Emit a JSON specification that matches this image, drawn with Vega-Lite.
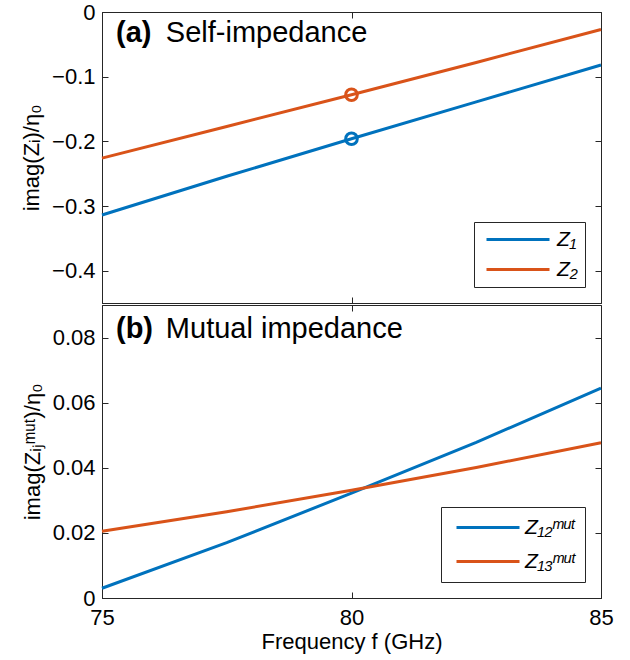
{
  "$schema": "https://vega.github.io/schema/vega-lite/v6.json",
  "background": "white",
  "padding": {"left": 20, "top": 0, "right": 25, "bottom": 5},
  "spacing": 0,
  "config": {
    "font": "Liberation Sans",
    "view": {"stroke": "#262626", "strokeWidth": 1},
    "axis": {
      "domainColor": "#262626", "tickColor": "#262626", "tickSize": -6,
      "labelFontSize": 22, "titleFontSize": 22, "labelColor": "black", "titleColor": "black",
      "titleFontWeight": "normal", "grid": false, "labelPadding": 13, "labelFlush": false
    },
    "legend": {
      "orient": "bottom-right", "title": null, "symbolType": "M-1,0H11.6", "symbolSize": 100,
      "symbolStrokeWidth": 3, "labelFontSize": 21, "labelFontStyle": "italic", "labelColor": "black",
      "strokeColor": "#262626", "fillColor": "white", "padding": 7, "offset": 16, "labelOffset": 55, "rowPadding": 8
    }
  },
  "resolve": {"scale": {"color": "independent"}, "legend": {"color": "independent"}},
  "vconcat": [
    {
      "width": 499, "height": 291,
      "layer": [
        {
          "data": {"values": [
            {"s": "Z₁", "f": 75, "v": -0.314}, {"s": "Z₁", "f": 77.5, "v": -0.254}, {"s": "Z₁", "f": 80, "v": -0.196}, {"s": "Z₁", "f": 82.5, "v": -0.139}, {"s": "Z₁", "f": 85, "v": -0.082},
            {"s": "Z₂", "f": 75, "v": -0.226}, {"s": "Z₂", "f": 77.5, "v": -0.177}, {"s": "Z₂", "f": 80, "v": -0.128}, {"s": "Z₂", "f": 82.5, "v": -0.078}, {"s": "Z₂", "f": 85, "v": -0.027}
          ]},
          "mark": {"type": "line", "strokeWidth": 3},
          "encoding": {
            "x": {"field": "f", "type": "quantitative", "scale": {"domain": [75, 85], "nice": false}, "axis": {"values": [75, 80, 85], "labels": false, "title": null}},
            "y": {"field": "v", "type": "quantitative", "scale": {"domain": [-0.45, 0], "nice": false}, "axis": {"values": [0, -0.1, -0.2, -0.3, -0.4], "format": ".1~f", "title": "imag(Zᵢ)/η₀", "titlePadding": 8}},
            "color": {"field": "s", "type": "nominal", "scale": {"domain": ["Z₁", "Z₂"], "range": ["#0072BD", "#D95319"]}}
          }
        },
        {
          "data": {"values": [{"s": "Z₁", "f": 80, "v": -0.196}, {"s": "Z₂", "f": 80, "v": -0.128}]},
          "mark": {"type": "point", "shape": "circle", "filled": false, "size": 135, "strokeWidth": 3, "opacity": 1},
          "encoding": {
            "x": {"field": "f", "type": "quantitative", "axis": null},
            "y": {"field": "v", "type": "quantitative", "axis": null},
            "color": {"field": "s", "type": "nominal"}
          }
        },
        {
          "data": {"values": [{"f": 75, "v": -0.2}, {"f": 85, "v": -0.2}]},
          "mark": {"type": "line", "opacity": 0},
          "encoding": {
            "x": {"field": "f", "type": "quantitative", "axis": {"orient": "top", "values": [75, 80, 85], "labels": false, "domain": false, "title": null}},
            "y": {"field": "v", "type": "quantitative", "axis": {"orient": "right", "values": [0, -0.1, -0.2, -0.3, -0.4], "labels": false, "domain": false, "title": null}}
          }
        },
        {
          "data": {"values": [{"label": "(a)"}]},
          "mark": {"type": "text", "fontSize": 29, "fontWeight": "bold", "align": "left", "baseline": "alphabetic", "color": "black"},
          "encoding": {"x": {"datum": 75.28, "type": "quantitative", "axis": null}, "y": {"datum": -0.047, "type": "quantitative", "axis": null}, "text": {"field": "label"}}
        },
        {
          "data": {"values": [{"label": "Self-impedance"}]},
          "mark": {"type": "text", "fontSize": 29, "align": "left", "baseline": "alphabetic", "color": "black"},
          "encoding": {"x": {"datum": 76.28, "type": "quantitative", "axis": null}, "y": {"datum": -0.047, "type": "quantitative", "axis": null}, "text": {"field": "label"}}
        }
      ],
      "resolve": {"axis": {"x": "independent", "y": "independent"}}
    },
    {
      "width": 499, "height": 293,
      "layer": [
        {
          "data": {"values": [
            {"s": "Z₁₂ᵐᵘᵗ", "f": 75, "v": 0.003}, {"s": "Z₁₂ᵐᵘᵗ", "f": 77.5, "v": 0.017}, {"s": "Z₁₂ᵐᵘᵗ", "f": 80, "v": 0.0322}, {"s": "Z₁₂ᵐᵘᵗ", "f": 82.5, "v": 0.0478}, {"s": "Z₁₂ᵐᵘᵗ", "f": 85, "v": 0.0645},
            {"s": "Z₁₃ᵐᵘᵗ", "f": 75, "v": 0.0205}, {"s": "Z₁₃ᵐᵘᵗ", "f": 77.5, "v": 0.0265}, {"s": "Z₁₃ᵐᵘᵗ", "f": 80, "v": 0.0331}, {"s": "Z₁₃ᵐᵘᵗ", "f": 82.5, "v": 0.0401}, {"s": "Z₁₃ᵐᵘᵗ", "f": 85, "v": 0.0477}
          ]},
          "mark": {"type": "line", "strokeWidth": 3},
          "encoding": {
            "x": {"field": "f", "type": "quantitative", "scale": {"domain": [75, 85], "nice": false}, "axis": {"values": [75, 80, 85], "title": "Frequency f (GHz)", "titlePadding": 3, "labelPadding": 15}},
            "y": {"field": "v", "type": "quantitative", "scale": {"domain": [0, 0.09], "nice": false}, "axis": {"values": [0, 0.02, 0.04, 0.06, 0.08], "format": ".2~f", "title": "imag(Zᵢⱼᵐᵘᵗ)/η₀", "titlePadding": 8}},
            "color": {"field": "s", "type": "nominal", "scale": {"domain": ["Z₁₂ᵐᵘᵗ", "Z₁₃ᵐᵘᵗ"], "range": ["#0072BD", "#D95319"]}, "legend": {"offset": 16, "rowPadding": 12, "padding": 10, "labelOffset": 53}}
          }
        },
        {
          "data": {"values": [{"f": 75, "v": 0.04}, {"f": 85, "v": 0.04}]},
          "mark": {"type": "line", "opacity": 0},
          "encoding": {
            "x": {"field": "f", "type": "quantitative", "axis": {"orient": "top", "values": [75, 80, 85], "labels": false, "domain": false, "title": null}},
            "y": {"field": "v", "type": "quantitative", "axis": {"orient": "right", "values": [0, 0.02, 0.04, 0.06, 0.08], "labels": false, "domain": false, "title": null}}
          }
        },
        {
          "data": {"values": [{"label": "(b)"}]},
          "mark": {"type": "text", "fontSize": 29, "fontWeight": "bold", "align": "left", "baseline": "alphabetic", "color": "black"},
          "encoding": {"x": {"datum": 75.28, "type": "quantitative", "axis": null}, "y": {"datum": 0.08, "type": "quantitative", "axis": null}, "text": {"field": "label"}}
        },
        {
          "data": {"values": [{"label": "Mutual impedance"}]},
          "mark": {"type": "text", "fontSize": 29, "align": "left", "baseline": "alphabetic", "color": "black"},
          "encoding": {"x": {"datum": 76.28, "type": "quantitative", "axis": null}, "y": {"datum": 0.08, "type": "quantitative", "axis": null}, "text": {"field": "label"}}
        }
      ],
      "resolve": {"axis": {"x": "independent", "y": "independent"}}
    }
  ]
}
